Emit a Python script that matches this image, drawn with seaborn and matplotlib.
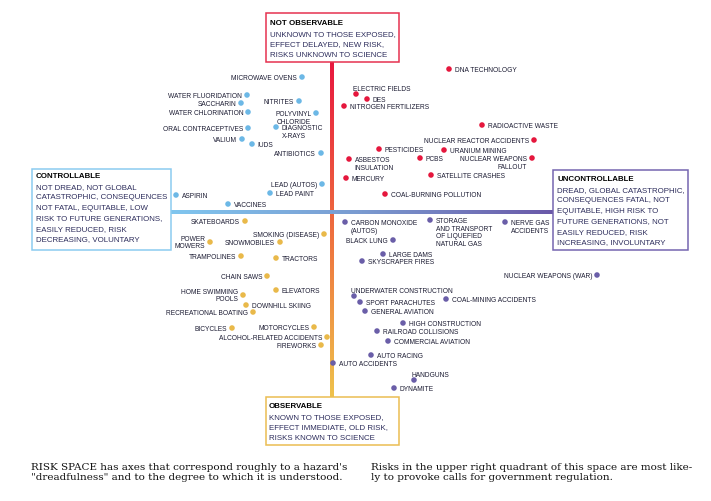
import numpy as np
import pandas as pd
import matplotlib.pyplot as plt
from matplotlib.colors import LinearSegmentedColormap
from matplotlib.patches import Rectangle
import seaborn as sns

# hazards placed in "risk space": x = dread factor, y = unknown factor
hazards = [
    "MICROWAVE OVENS", "WATER FLUORIDATION", "SACCHARIN", "WATER CHLORINATION",
    "ORAL CONTRACEPTIVES", "VALIUM", "IUDS", "NITRITES", "POLYVINYL\nCHLORIDE",
    "DIAGNOSTIC\nX-RAYS", "ANTIBIOTICS", "LEAD (AUTOS)", "LEAD PAINT", "ASPIRIN",
    "VACCINES",
    "SKATEBOARDS", "POWER\nMOWERS", "SMOKING (DISEASE)", "SNOWMOBILES", "TRAMPOLINES",
    "TRACTORS", "CHAIN SAWS", "ELEVATORS", "HOME SWIMMING\nPOOLS", "DOWNHILL SKIING",
    "RECREATIONAL BOATING", "BICYCLES", "MOTORCYCLES", "ALCOHOL-RELATED ACCIDENTS",
    "FIREWORKS",
    "DNA TECHNOLOGY", "ELECTRIC FIELDS", "DES", "NITROGEN FERTILIZERS",
    "RADIOACTIVE WASTE", "NUCLEAR REACTOR ACCIDENTS", "PESTICIDES", "URANIUM MINING",
    "ASBESTOS\nINSULATION", "PCBS", "NUCLEAR WEAPONS\nFALLOUT", "MERCURY",
    "SATELLITE CRASHES", "COAL-BURNING POLLUTION",
    "CARBON MONOXIDE\n(AUTOS)", "BLACK LUNG",
    "STORAGE\nAND TRANSPORT\nOF LIQUEFIED\nNATURAL GAS", "NERVE GAS\nACCIDENTS",
    "LARGE DAMS", "SKYSCRAPER FIRES", "NUCLEAR WEAPONS (WAR)", "UNDERWATER CONSTRUCTION",
    "SPORT PARACHUTES", "COAL-MINING ACCIDENTS", "GENERAL AVIATION", "HIGH CONSTRUCTION",
    "RAILROAD COLLISIONS", "COMMERCIAL AVIATION", "AUTO RACING", "AUTO ACCIDENTS",
    "HANDGUNS", "DYNAMITE",
]
dread = [
    -0.30, -0.85, -0.91, -0.84, -0.84, -0.90, -0.80, -0.33, -0.16, -0.56, -0.11, -0.10, -0.62, -1.56, -1.04,
    -0.87, -1.22, -0.08, -0.52, -0.91, -0.56, -0.65, -0.56, -0.89, -0.86, -0.79, -1.00, -0.18, -0.05, -0.11,
    1.17, 0.24, 0.35, 0.12, 1.50, 2.02, 0.47, 1.12, 0.17, 0.88, 2.00, 0.14, 0.99, 0.53,
    0.13, 0.61, 0.98, 1.73, 0.51, 0.30, 2.65, 0.22, 0.28, 1.14, 0.33, 0.71, 0.45, 0.56, 0.39, 0.01,
    0.82, 0.62,
]
unknown = [
    1.35, 1.17, 1.09, 1.00, 0.84, 0.73, 0.68, 1.11, 0.99, 0.85, 0.59, 0.28, 0.19, 0.17, 0.08,
    -0.09, -0.30, -0.22, -0.30, -0.44, -0.46, -0.64, -0.78, -0.83, -0.93, -1.00, -1.16, -1.15, -1.25, -1.33,
    1.43, 1.18, 1.13, 1.06, 0.87, 0.72, 0.63, 0.62, 0.53, 0.54, 0.54, 0.34, 0.37, 0.18,
    -0.10, -0.28, -0.08, -0.10, -0.42, -0.49, -0.63, -0.84, -0.90, -0.87, -0.99, -1.11, -1.19, -1.29, -1.43, -1.51,
    -1.68, -1.76,
]
quadrant = (["controllable, not observable"] * 15 + ["controllable, observable"] * 15
            + ["uncontrollable, not observable"] * 14 + ["uncontrollable, observable"] * 18)
# where the label sits relative to its dot: r/l = right/left, lc = left centred, ar = above
label_side = [
    "l", "l", "l", "l", "l", "l", "r", "l", "l", "r", "l", "l", "r", "r", "r",
    "l", "lc", "l", "l", "l", "r", "l", "r", "lc", "r", "l", "l", "l", "l", "l",
    "r", "ar", "r", "r", "r", "l", "r", "r", "r", "r", "l", "r", "r", "r",
    "r", "l", "r", "r", "r", "r", "l", "ar", "r", "r", "r", "r", "r", "r", "r", "r",
    "ar", "r",
]

df = pd.DataFrame({"hazard": hazards, "dread": dread, "unknown": unknown,
                   "quadrant": quadrant, "side": label_side})

palette = {
    "controllable, not observable": "#6cb8e6",
    "controllable, observable": "#e9b94a",
    "uncontrollable, not observable": "#e5173d",
    "uncontrollable, observable": "#6a5ea8",
}

sns.set_theme(style="white")
plt.rcParams['font.family'] = ['Liberation Sans', 'DejaVu Sans']

fig = plt.figure(figsize=(7.11, 5.02), dpi=100)
ax = fig.add_axes([0, 0, 1, 1])

# gradient axes
vcmap = LinearSegmentedColormap.from_list("v", ["#e8173f", "#ee6e3e", "#efc24c"])
hcmap = LinearSegmentedColormap.from_list("h", ["#80c6ef", "#7a9ad0", "#6a58a8"])
grad = np.linspace(0, 1, 256)
ax.imshow(grad.reshape(-1, 1), cmap=vcmap, extent=(-0.02, 0.02, -1.85, 1.50),
          aspect="auto", zorder=1)
ax.imshow(grad.reshape(1, -1), cmap=hcmap, extent=(-1.61, 2.21, -0.02, 0.02),
          aspect="auto", zorder=2)

sns.scatterplot(data=df, x="dread", y="unknown", hue="quadrant", palette=palette,
                s=16, linewidth=0, legend=False, ax=ax, zorder=3)

fs = 4.8
for _, r in df.iterrows():
    side = r["side"]
    if side == "r":
        kw = dict(xytext=(4, 1.8), ha="left", va="top")
    elif side == "l":
        kw = dict(xytext=(-3.5, 1.8), ha="right", va="top")
    elif side == "lc":
        kw = dict(xytext=(-3.5, 0), ha="right", va="center")
    else:
        kw = dict(xytext=(-1.9, 3.0), ha="left", va="baseline")
    ax.annotate(r["hazard"], (r["dread"], r["unknown"]), textcoords="offset points",
                fontsize=fs, color="#1c1c33", linespacing=1.1,
                multialignment=kw["ha"], **kw)

# the four corner boxes
boxes = [
    ((-0.66, 1.50), 1.33, 0.49, "#e6324f", -0.62, 1.89,
     "NOT OBSERVABLE", ["UNKNOWN TO THOSE EXPOSED,", "EFFECT DELAYED, NEW RISK,", "RISKS UNKNOWN TO SCIENCE"]),
    ((-0.66, -2.33), 1.33, 0.48, "#ebbd52", -0.63, -1.94,
     "OBSERVABLE", ["KNOWN TO THOSE EXPOSED,", "EFFECT IMMEDIATE, OLD RISK,", "RISKS KNOWN TO SCIENCE"]),
    ((-3.00, -0.38), 1.39, 0.81, "#8ccbf0", -2.96, 0.36,
     "CONTROLLABLE", ["NOT DREAD, NOT GLOBAL", "CATASTROPHIC, CONSEQUENCES", "NOT FATAL, EQUITABLE, LOW",
                      "RISK TO FUTURE GENERATIONS,", "EASILY REDUCED, RISK", "DECREASING, VOLUNTARY"]),
    ((2.21, -0.38), 1.35, 0.80, "#7566b0", 2.25, 0.33,
     "UNCONTROLLABLE", ["DREAD, GLOBAL CATASTROPHIC,", "CONSEQUENCES FATAL, NOT", "EQUITABLE, HIGH RISK TO",
                        "FUTURE GENERATIONS, NOT", "EASILY REDUCED, RISK", "INCREASING, INVOLUNTARY"]),
]
for (x0, y0), w, h, ec, tx, ty, title, body in boxes:
    ax.add_patch(Rectangle((x0, y0), w, h, facecolor="white", edgecolor=ec, lw=1.1, zorder=4))
    ax.text(tx, ty, title, fontsize=5.7, fontweight="bold", color="black",
            ha="left", va="center", zorder=5)
    for i, line in enumerate(body):
        ax.text(tx, ty - 0.105 * (i + 1), line, fontsize=5.7, color="#2d2d5c",
                ha="left", va="center", zorder=5)

ax.set_xlim(-3.32, 3.79)
ax.set_ylim(-2.89, 2.13)
ax.axis("off")

# caption, two columns of two lines
serif = ["DejaVu Serif"]
caption_left = ["RISK SPACE has axes that correspond roughly to a hazard's",
                "\"dreadfulness\" and to the degree to which it is understood."]
caption_right = ["Risks in the upper right quadrant of this space are most like-",
                 "ly to provoke calls for government regulation."]
for i, (a, b) in enumerate(zip(caption_left, caption_right)):
    y = 1 - (470.5 + 10 * i) / 502
    fig.text(31 / 711, y, a, family=serif, fontsize=7.5, va="baseline", ha="left", color="#111111")
    fig.text(371 / 711, y, b, family=serif, fontsize=7.5, va="baseline", ha="left", color="#111111")

fig.savefig("out.png", dpi=100)
